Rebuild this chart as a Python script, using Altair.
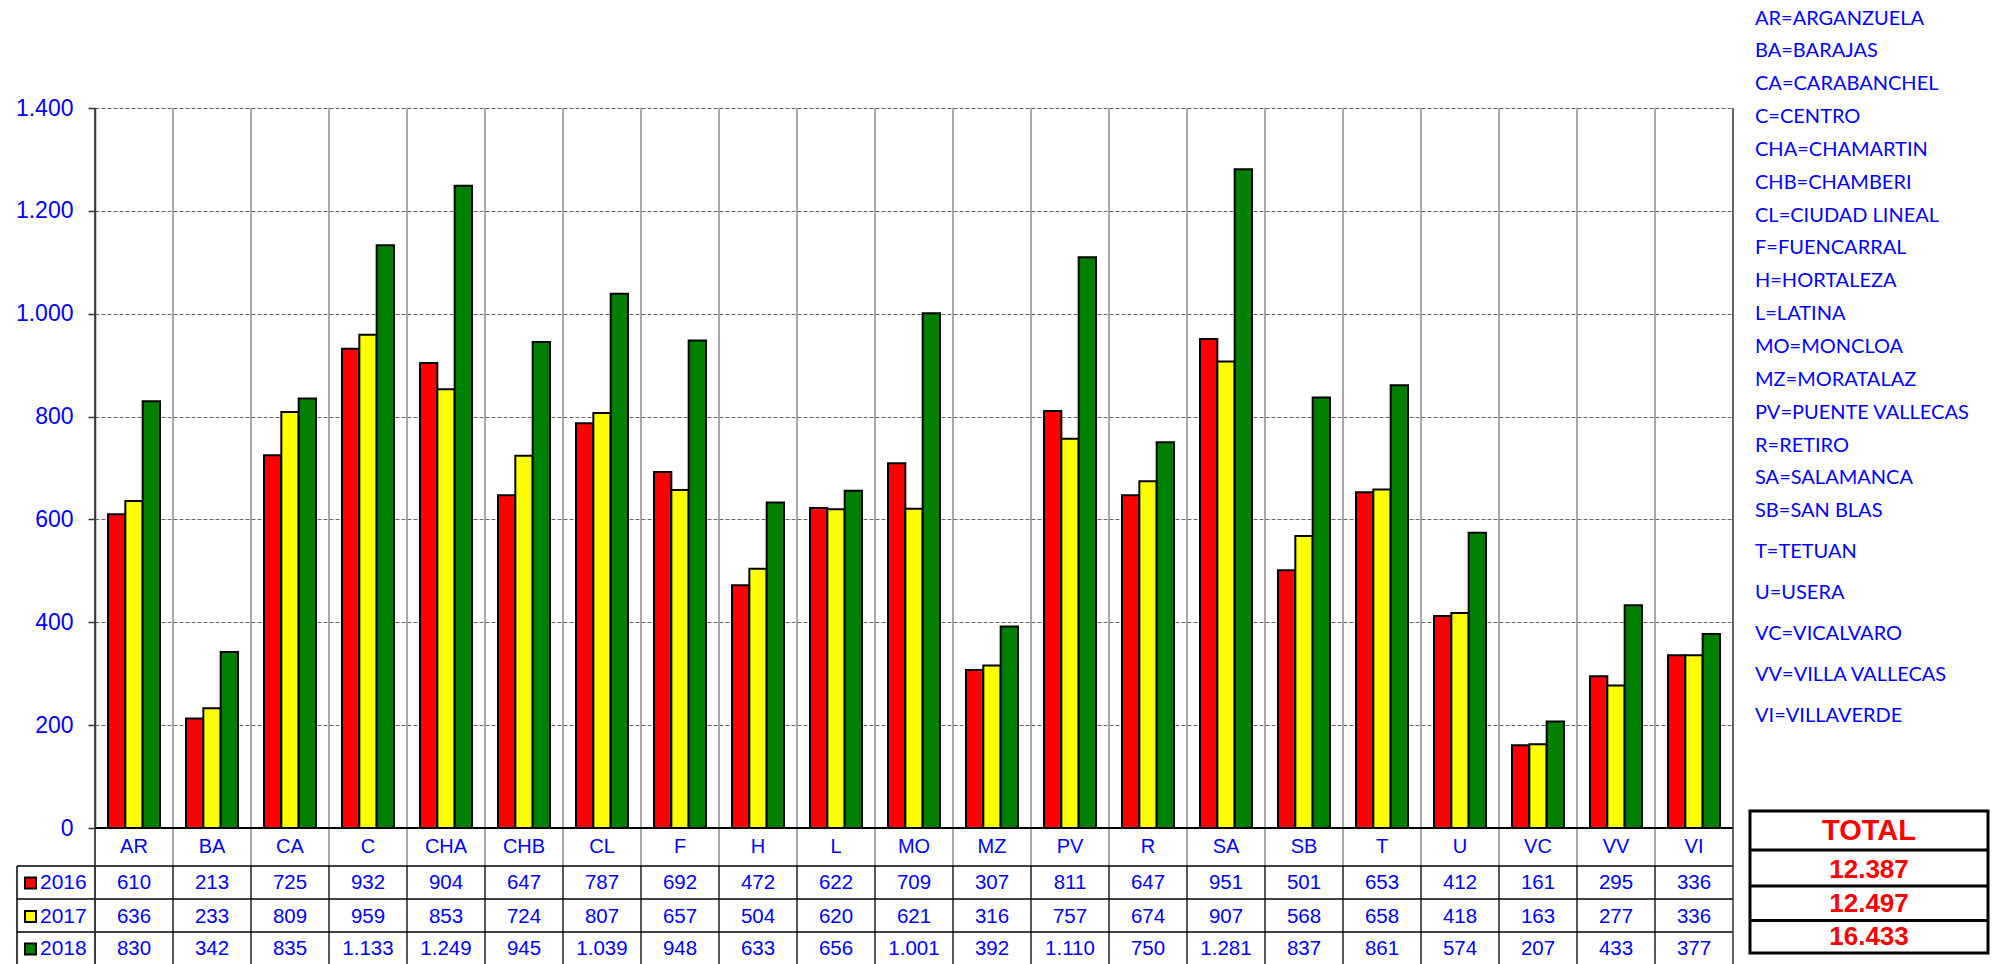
import altair as alt
import pandas as pd

# ---------------- data ----------------
codes = ["AR", "BA", "CA", "C", "CHA", "CHB", "CL", "F", "H", "L", "MO",
         "MZ", "PV", "R", "SA", "SB", "T", "U", "VC", "VV", "VI"]
names = ["ARGANZUELA", "BARAJAS", "CARABANCHEL", "CENTRO", "CHAMARTIN",
         "CHAMBERI", "CIUDAD LINEAL", "FUENCARRAL", "HORTALEZA", "LATINA",
         "MONCLOA", "MORATALAZ", "PUENTE VALLECAS", "RETIRO", "SALAMANCA",
         "SAN BLAS", "TETUAN", "USERA", "VICALVARO", "VILLA VALLECAS",
         "VILLAVERDE"]
years = ["2016", "2017", "2018"]
v2016 = [610, 213, 725, 932, 904, 647, 787, 692, 472, 622, 709, 307, 811,
         647, 951, 501, 653, 412, 161, 295, 336]
v2017 = [636, 233, 809, 959, 853, 724, 807, 657, 504, 620, 621, 316, 757,
         674, 907, 568, 658, 418, 163, 277, 336]
v2018 = [830, 342, 835, 1133, 1249, 945, 1039, 948, 633, 656, 1001, 392,
         1110, 750, 1281, 837, 861, 574, 207, 433, 377]
y_ticks = [0, 200, 400, 600, 800, 1000, 1200, 1400]
colors = ["#FF0000", "#FFFF00", "#008000"]

series = {"2016": v2016, "2017": v2017, "2018": v2018}
long = pd.DataFrame([
    {"code": c, "year": y, "value": vals[i]}
    for y, vals in series.items() for i, c in enumerate(codes)
])
cat_df = pd.DataFrame({"code": codes})
one = pd.DataFrame({"k": [0]})


def fmt(n):
    return f"{n:,}".replace(",", ".")


totals = [fmt(sum(series[y])) for y in years]

# ---------------- layout ----------------
W, H = 1638, 720
BLUE = "#0000FF"
FONT = "Liberation Sans"
HDR_BOT = H + 38
ROW_LINES = [HDR_BOT, H + 71, H + 104]
ROW_CENTERS = [H + 55, H + 88.5, H + 121]
BOTTOM = H + 150
LBL_LEFT = -78
NUM_EXPR = "replace(format(datum.value, ','), ',', '.')"


def xcode(**kw):
    return alt.X("code:N", sort=codes,
                 scale=alt.Scale(paddingInner=0, paddingOuter=0),
                 axis=None, **kw)


def hline(y, x1, x2, color="black", w=1.5):
    return alt.Chart(one).mark_rule(color=color, strokeWidth=w).encode(
        x=alt.value(x1), x2=alt.value(x2), y=alt.value(y))


def vline(x, y1, y2, color="black", w=1.5):
    return alt.Chart(one).mark_rule(color=color, strokeWidth=w).encode(
        x=alt.value(x), y=alt.value(y1), y2=alt.value(y2))


bars = alt.Chart(long).mark_bar(stroke="black", strokeWidth=2).encode(
    x=xcode(),
    xOffset=alt.XOffset("year:N", sort=years,
                        scale=alt.Scale(paddingInner=0, paddingOuter=0.75)),
    y=alt.Y("value:Q",
            scale=alt.Scale(domain=[0, 1400], nice=False),
            axis=alt.Axis(values=y_ticks, title=None, grid=True,
                          gridDash=[4, 2], gridColor="#666", gridWidth=1,
                          domainColor="#333", domainWidth=1.5,
                          tickColor="#333", tickSize=7, tickWidth=1.5,
                          labelColor=BLUE, labelFont=FONT, labelFontSize=23,
                          labelPadding=15, labelExpr=NUM_EXPR)),
    color=alt.Color("year:N", scale=alt.Scale(domain=years, range=colors),
                    legend=None),
)

gray_sep = alt.Chart(cat_df).mark_rule(color="#707070", strokeWidth=1.2).encode(
    x=xcode(bandPosition=0), y=alt.value(0), y2=alt.value(HDR_BOT))
black_sep = alt.Chart(cat_df).mark_rule(color="black", strokeWidth=1.3).encode(
    x=xcode(bandPosition=0), y=alt.value(HDR_BOT), y2=alt.value(BOTTOM))

header = alt.Chart(cat_df).mark_text(
    font=FONT, fontSize=20, color=BLUE, baseline="middle").encode(
    x=xcode(), y=alt.value(H + 19), text="code:N")

layers = [gray_sep, bars, black_sep, header]

for i, y in enumerate(years):
    cy = ROW_CENTERS[i]
    layers.append(
        alt.Chart(long).transform_filter(alt.datum.year == y)
        .transform_calculate(lbl=NUM_EXPR)
        .mark_text(font=FONT, fontSize=20.5, color=BLUE, baseline="middle")
        .encode(x=xcode(), y=alt.value(cy), text="lbl:N"))
    layers.append(
        alt.Chart(one).mark_rect(fill=colors[i], stroke="black", strokeWidth=2)
        .encode(x=alt.value(-70), x2=alt.value(-59),
                y=alt.value(cy - 5.5), y2=alt.value(cy + 5.5)))
    layers.append(
        alt.Chart(one).mark_text(text=y, font=FONT, fontSize=21, color=BLUE,
                                 align="left", baseline="middle")
        .encode(x=alt.value(-55), y=alt.value(cy)))

# table / frame lines
for yl in ROW_LINES:
    layers.append(hline(yl, LBL_LEFT, W))
layers.append(hline(H, 0, W, w=2))
layers.append(vline(LBL_LEFT, HDR_BOT, BOTTOM))
layers.append(vline(0, 0, BOTTOM, color="#333", w=1.5))
layers.append(vline(W, 0, BOTTOM, color="#333", w=1.5))

# district legend on the right
lines = [f"{c}={n}" for c, n in zip(codes, names)]
layers.append(alt.Chart(one).mark_text(
    text=lines[:16], lineHeight=32.85, font="Lato", fontSize=20, color=BLUE,
    align="left", baseline="alphabetic").encode(
    x=alt.value(W + 22), y=alt.value(-83.5)))
layers.append(alt.Chart(one).mark_text(
    text=lines[16:], lineHeight=41, font="Lato", fontSize=20, color=BLUE,
    align="left", baseline="alphabetic").encode(
    x=alt.value(W + 22), y=alt.value(450.2)))

# TOTAL box
BX1, BX2 = 1655, 1893
BY = [703, 742, 778, 812.5, 845]
layers.append(alt.Chart(one).mark_rect(fill="white", stroke="black", strokeWidth=3)
              .encode(x=alt.value(BX1), x2=alt.value(BX2),
                      y=alt.value(BY[0]), y2=alt.value(BY[-1])))
for yl in BY[1:-1]:
    layers.append(hline(yl, BX1, BX2, w=3))
layers.append(alt.Chart(one).mark_text(
    text="TOTAL", font=FONT, fontSize=29, fontWeight="bold", color="#FF0000",
    align="center", baseline="middle").encode(
    x=alt.value((BX1 + BX2) / 2), y=alt.value((BY[0] + BY[1]) / 2)))
layers.append(alt.Chart(one).mark_text(
    text=totals, lineHeight=33.6, font=FONT, fontSize=26, fontWeight="bold",
    color="#FF0000", align="center", baseline="alphabetic").encode(
    x=alt.value((BX1 + BX2) / 2), y=alt.value(770)))

chart = alt.layer(*layers).properties(
    width=W, height=H,
    padding={"left": 87, "top": 100, "right": 257, "bottom": 136},
    autosize=alt.AutoSizeParams(type="none"),
).configure_view(strokeWidth=0)

chart.save("out.html", embed_options={"renderer": "svg", "actions": False})
